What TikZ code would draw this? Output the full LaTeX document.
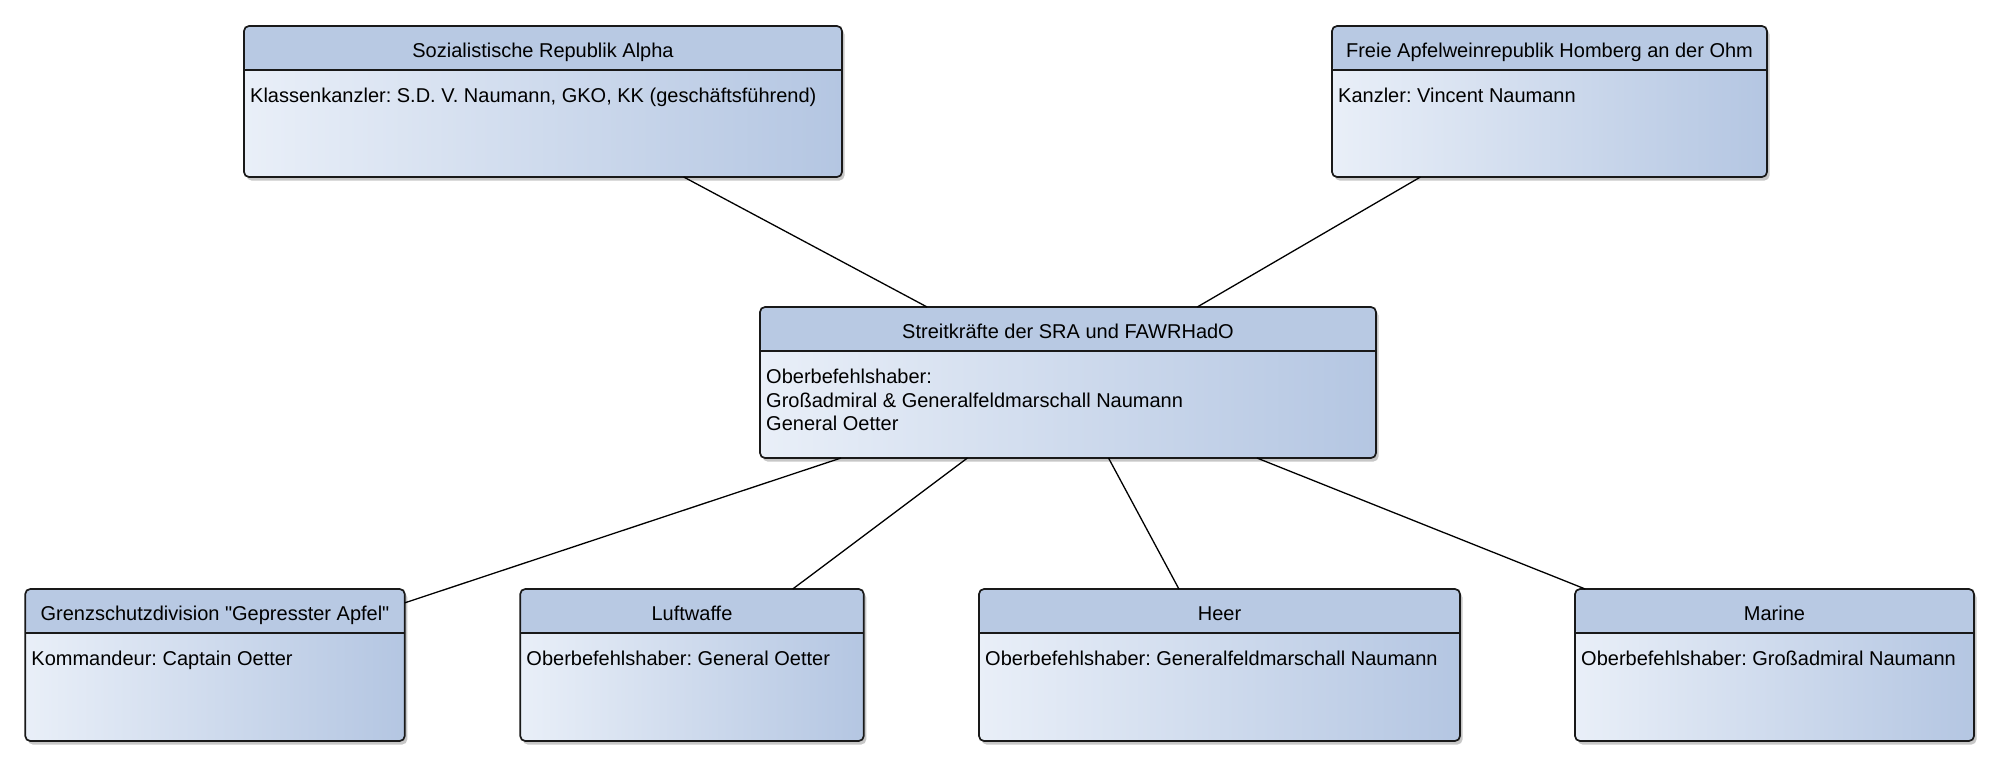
\documentclass[tikz,border=0pt]{standalone}
\usepackage{fontspec}
\setmainfont{Liberation Sans}
\newfontfamily\diafont{Liberation Sans}
\usetikzlibrary{shadows}
\frenchspacing
\definecolor{headcol}{RGB}{184,201,227}
\definecolor{bodyL}{RGB}{233,239,248}
\definecolor{bodyR}{RGB}{180,198,226}
\definecolor{edgecol}{RGB}{25,25,25}
\tikzset{
  umlbox/.style={draw=edgecol, line width=1.7pt, rounded corners=5pt,
    left color=bodyL, right color=bodyR, inner sep=0pt, outer sep=0pt,
    drop shadow={shadow xshift=2.5pt, shadow yshift=-3.5pt, opacity=0.22, fill=black},
    path picture={
      \fill[headcol] (path picture bounding box.north west) rectangle ([yshift=-44pt]path picture bounding box.north east);
      \draw[edgecol, line width=1.7pt] ([yshift=-44pt]path picture bounding box.north west) -- ([yshift=-44pt]path picture bounding box.north east);
    }},
  boxtitle/.style={anchor=base, font=\diafont\fontsize{20}{23.5}\selectfont, inner sep=0pt},
  boxbody/.style={anchor=north west, align=left, font=\diafont\fontsize{20}{23.5}\selectfont, inner sep=0pt},
  link/.style={draw=black, line width=1.3pt}
}
\begin{document}
\frenchspacing
\begin{tikzpicture}[x=1pt,y=-1pt]
\useasboundingbox[fill=white] (0,0) rectangle (2000,766);
% boxes
\node[umlbox, minimum width=598pt, minimum height=151pt] (sra) at (543,101.5) {};
\node[umlbox, minimum width=435pt, minimum height=151pt] (fawr) at (1549.5,101.5) {};
\node[umlbox, minimum width=616pt, minimum height=151pt] (str) at (1068,382.5) {};
\node[umlbox, minimum width=379.5pt, minimum height=152pt] (grenz) at (215,665) {};
\node[umlbox, minimum width=343.5pt, minimum height=152pt] (luft) at (692,665) {};
\node[umlbox, minimum width=481pt, minimum height=152pt] (heer) at (1219.5,665) {};
\node[umlbox, minimum width=399pt, minimum height=152pt] (marine) at (1774.5,665) {};
% titles
\node[boxtitle] (sraT) at ([yshift=-31pt]sra.north) {Sozialistische Republik Alpha};
\node[boxtitle] (fawrT) at ([yshift=-31pt]fawr.north) {Freie Apfelweinrepublik Homberg an der Ohm};
\node[boxtitle] (strT) at ([yshift=-31pt]str.north) {Streitkräfte der SRA und FAWRHadO};
\node[boxtitle] (grenzT) at ([yshift=-31pt]grenz.north) {Grenzschutzdivision "Gepresster Apfel"};
\node[boxtitle] (luftT) at ([yshift=-31pt]luft.north) {Luftwaffe};
\node[boxtitle] (heerT) at ([yshift=-31pt]heer.north) {Heer};
\node[boxtitle] (marineT) at ([yshift=-31pt]marine.north) {Marine};
% bodies
\node[boxbody] (sraB) at ([xshift=6pt,yshift=-62pt]sra.north west) {Klassenkanzler: S.D. V. Naumann, GKO, KK (geschäftsführend)};
\node[boxbody] (fawrB) at ([xshift=6pt,yshift=-62pt]fawr.north west) {Kanzler: Vincent Naumann};
\node[boxbody] (strB) at ([xshift=6pt,yshift=-62pt]str.north west) {Oberbefehlshaber:\\Großadmiral \& Generalfeldmarschall Naumann\\General Oetter};
\node[boxbody] (grenzB) at ([xshift=6pt,yshift=-62pt]grenz.north west) {Kommandeur: Captain Oetter};
\node[boxbody] (luftB) at ([xshift=6pt,yshift=-62pt]luft.north west) {Oberbefehlshaber: General Oetter};
\node[boxbody] (heerB) at ([xshift=6pt,yshift=-62pt]heer.north west) {Oberbefehlshaber: Generalfeldmarschall Naumann};
\node[boxbody] (marineB) at ([xshift=6pt,yshift=-62pt]marine.north west) {Oberbefehlshaber: Großadmiral Naumann};
% connectors
\draw[link] (sra) -- (str);
\draw[link] (fawr) -- (str);
\draw[link] (str) -- (grenz);
\draw[link] (str) -- (luft);
\draw[link] (str) -- (heer);
\draw[link] (str) -- (marine);
\end{tikzpicture}
\end{document}
